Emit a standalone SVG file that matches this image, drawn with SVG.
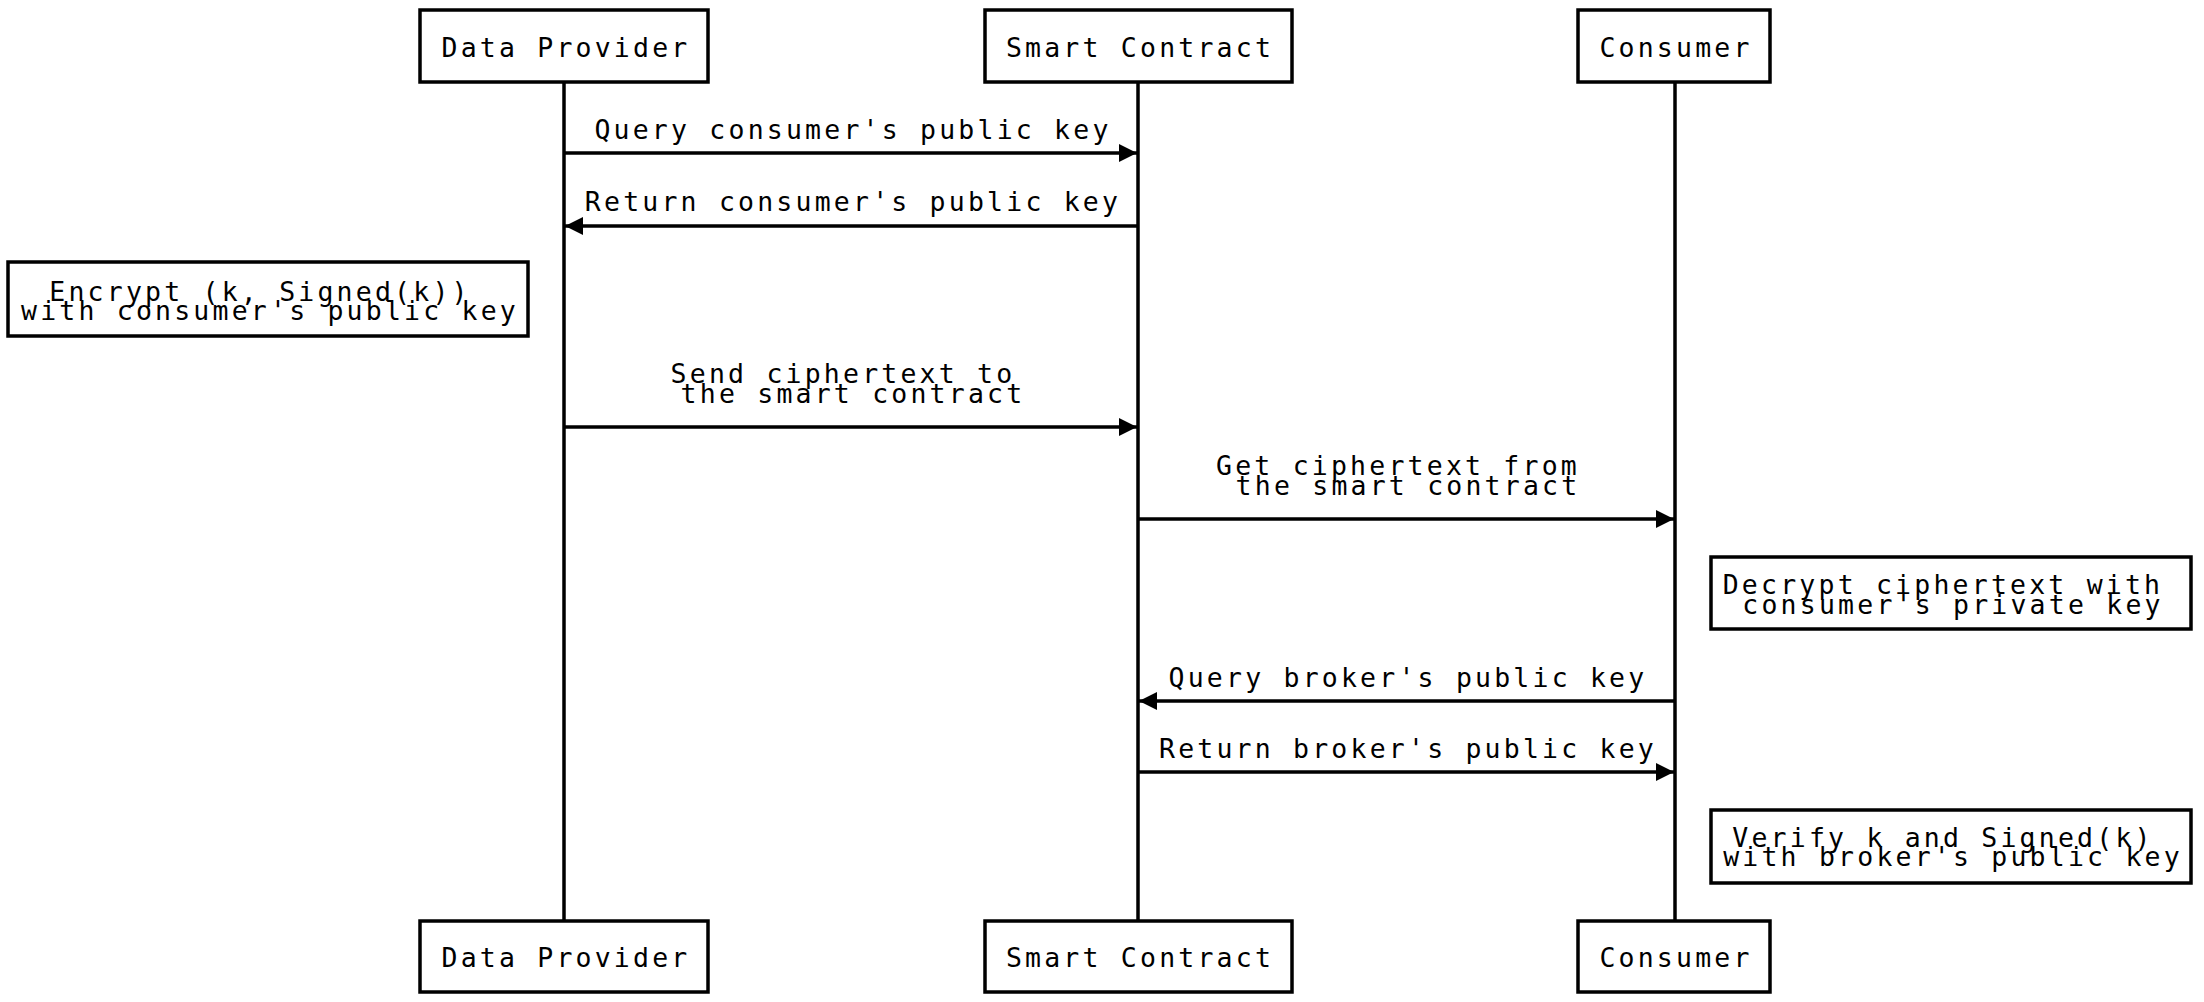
<svg xmlns="http://www.w3.org/2000/svg" width="2204" height="1002" viewBox="0 0 2204 1002">
  <style>
    .box { fill: #ffffff; stroke: #000000; stroke-width: 3.5; }
    .life { stroke: #000000; stroke-width: 3.5; fill: none; }
    .msg { stroke: #000000; stroke-width: 3.5; fill: none; marker-end: url(#arrow); }
    text { font-family: "DejaVu Sans Mono", "Liberation Mono", monospace; font-size: 26.5px; letter-spacing: 3.2px; fill: #000000; text-anchor: middle; }
  </style>
  <defs>
    <marker id="arrow" markerUnits="userSpaceOnUse" markerWidth="18" markerHeight="18" refX="18" refY="9" orient="auto">
      <path d="M0,0 L18,9 L0,18 Z" fill="#000000"/>
    </marker>
  </defs>
  <rect x="0" y="0" width="2204" height="1002" fill="#ffffff"/>

  <g id="lifelines">
    <line class="life" x1="564" y1="82" x2="564" y2="921"/>
    <line class="life" x1="1138" y1="82" x2="1138" y2="921"/>
    <line class="life" x1="1675" y1="82" x2="1675" y2="921"/>
  </g>

  <g id="connectors">
    <g id="msg1">
      <line class="msg" x1="564" y1="153" x2="1137" y2="153"/>
      <text x="853" y="139">Query consumer's public key</text>
    </g>
    <g id="msg2">
      <line class="msg" x1="1138" y1="226" x2="565" y2="226"/>
      <text x="853" y="211">Return consumer's public key</text>
    </g>
    <g id="msg3">
      <line class="msg" x1="564" y1="427" x2="1137" y2="427"/>
      <text x="843" y="383">Send ciphertext to</text>
      <text x="853" y="403">the smart contract</text>
    </g>
    <g id="msg4">
      <line class="msg" x1="1138" y1="519" x2="1674" y2="519"/>
      <text x="1398" y="475">Get ciphertext from</text>
      <text x="1408" y="495">the smart contract</text>
    </g>
    <g id="msg5">
      <line class="msg" x1="1675" y1="701" x2="1139" y2="701"/>
      <text x="1408" y="687">Query broker's public key</text>
    </g>
    <g id="msg6">
      <line class="msg" x1="1138" y1="772" x2="1674" y2="772"/>
      <text x="1408" y="758">Return broker's public key</text>
    </g>
  </g>

  <g id="dp-top">
    <rect class="box" x="420" y="10" width="288" height="72"/>
    <text x="566" y="57">Data Provider</text>
  </g>
  <g id="sc-top">
    <rect class="box" x="985" y="10" width="307" height="72"/>
    <text x="1140" y="57">Smart Contract</text>
  </g>
  <g id="consumer-top">
    <rect class="box" x="1578" y="10" width="192" height="72"/>
    <text x="1676" y="57">Consumer</text>
  </g>

  <g id="note-encrypt">
    <rect class="box" x="8" y="262" width="520" height="74"/>
    <text x="260" y="301">Encrypt (k, Signed(k))</text>
    <text x="270" y="320">with consumer's public key</text>
  </g>
  <g id="note-decrypt">
    <rect class="box" x="1711" y="557" width="480" height="72"/>
    <text x="1943" y="594">Decrypt ciphertext with</text>
    <text x="1953" y="614">consumer's private key</text>
  </g>
  <g id="note-verify">
    <rect class="box" x="1711" y="810" width="480" height="73"/>
    <text x="1943" y="847">Verify k and Signed(k)</text>
    <text x="1953" y="866">with broker's public key</text>
  </g>

  <g id="dp-bottom">
    <rect class="box" x="420" y="921" width="288" height="71"/>
    <text x="566" y="967">Data Provider</text>
  </g>
  <g id="sc-bottom">
    <rect class="box" x="985" y="921" width="307" height="71"/>
    <text x="1140" y="967">Smart Contract</text>
  </g>
  <g id="consumer-bottom">
    <rect class="box" x="1578" y="921" width="192" height="71"/>
    <text x="1676" y="967">Consumer</text>
  </g>
</svg>
